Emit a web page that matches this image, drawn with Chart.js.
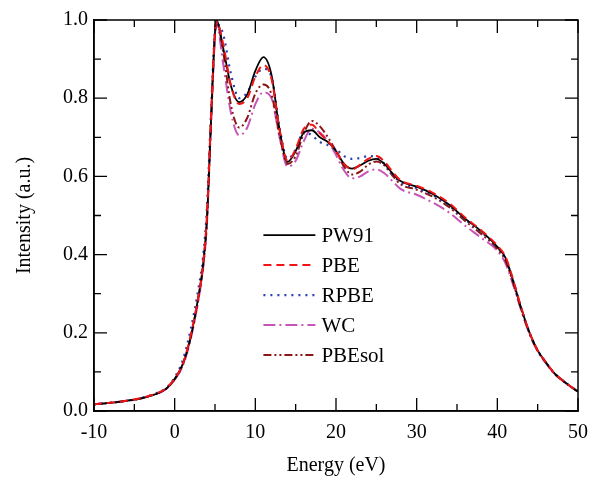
<!DOCTYPE html>
<html>
<head>
<meta charset="utf-8">
<script src="https://cdn.jsdelivr.net/npm/chart.js@4/dist/chart.umd.min.js"></script>
<style>
  html, body { margin: 0; padding: 0; background: #ffffff; }
  #wrap { width: 590px; height: 484px; }
</style>
</head>
<body>
<div id="wrap"><canvas id="c" width="590" height="484"></canvas></div>
<script>
// Photon energy grid (eV)
const energy = [-10, -8, -6, -4, -2, -1, 0,
  1, 2, 3, 3.5, 4, 4.5, 5, 5.2,
  6, 7, 8, 9, 10, 11, 12, 13, 14, 15, 16, 17, 18, 19, 20, 21, 22, 23, 24, 25,
  26, 27, 28,
  30, 32, 34, 36, 38, 40,
  41, 42, 43, 44, 45, 46, 47, 48, 49, 50];

// Normalised intensity for each exchange-correlation functional
const pw91 = [0.017, 0.021, 0.026, 0.033, 0.046, 0.058, 0.082,
  0.12, 0.19, 0.30, 0.37, 0.49, 0.74, 0.97, 1.0,
  0.93, 0.83, 0.79, 0.81, 0.87, 0.905, 0.86, 0.72, 0.637, 0.665, 0.712, 0.718, 0.70, 0.688, 0.665, 0.632, 0.62, 0.628, 0.64, 0.645,
  0.632, 0.608, 0.588,
  0.574, 0.555, 0.528, 0.492, 0.46, 0.42,
  0.392, 0.33, 0.26, 0.2, 0.155, 0.125, 0.098, 0.08, 0.064, 0.05];

const pbe = [0.017, 0.021, 0.026, 0.034, 0.047, 0.059, 0.083,
  0.12, 0.195, 0.30, 0.37, 0.50, 0.75, 0.97, 0.995,
  0.94, 0.83, 0.785, 0.80, 0.855, 0.885, 0.85, 0.72, 0.64, 0.67, 0.722, 0.732, 0.71, 0.69, 0.665, 0.632, 0.618, 0.63, 0.645, 0.652,
  0.638, 0.612, 0.59,
  0.576, 0.558, 0.532, 0.495, 0.462, 0.423,
  0.395, 0.333, 0.262, 0.2, 0.155, 0.125, 0.098, 0.08, 0.064, 0.05];

const rpbe = [0.017, 0.021, 0.026, 0.034, 0.048, 0.06, 0.086,
  0.13, 0.21, 0.32, 0.39, 0.52, 0.76, 0.975, 0.99,
  0.965, 0.86, 0.80, 0.815, 0.855, 0.875, 0.855, 0.725, 0.645, 0.668, 0.715, 0.705, 0.688, 0.68, 0.67, 0.652, 0.645, 0.647, 0.652, 0.65,
  0.632, 0.605, 0.585,
  0.57, 0.552, 0.525, 0.49, 0.458, 0.418,
  0.39, 0.33, 0.26, 0.2, 0.155, 0.125, 0.098, 0.08, 0.064, 0.05];

const wc = [0.017, 0.021, 0.026, 0.033, 0.046, 0.057, 0.08,
  0.115, 0.185, 0.29, 0.36, 0.48, 0.73, 0.96, 0.99,
  0.89, 0.76, 0.705, 0.725, 0.785, 0.815, 0.8, 0.7, 0.625, 0.64, 0.69, 0.722, 0.712, 0.69, 0.655, 0.615, 0.595, 0.6, 0.613, 0.618,
  0.608, 0.588, 0.568,
  0.553, 0.533, 0.508, 0.474, 0.443, 0.41,
  0.378, 0.32, 0.255, 0.196, 0.152, 0.123, 0.097, 0.079, 0.063, 0.05];

const pbesol = [0.017, 0.021, 0.026, 0.033, 0.046, 0.058, 0.081,
  0.118, 0.19, 0.295, 0.365, 0.485, 0.735, 0.965, 0.995,
  0.92, 0.78, 0.725, 0.75, 0.812, 0.835, 0.81, 0.705, 0.632, 0.652, 0.71, 0.742, 0.728, 0.7, 0.665, 0.625, 0.605, 0.612, 0.63, 0.638,
  0.628, 0.602, 0.58,
  0.566, 0.548, 0.522, 0.486, 0.453, 0.415,
  0.385, 0.325, 0.258, 0.198, 0.154, 0.124, 0.097, 0.079, 0.063, 0.05];

const seriesNames = ['PW91', 'PBE', 'RPBE', 'WC', 'PBEsol'];
const xTicks = [-10, 0, 10, 20, 30, 40, 50];
const yTicks = [0.0, 0.2, 0.4, 0.6, 0.8, 1.0];

const FONT = "'Liberation Serif', 'Times New Roman', serif";

const toPoints = vals => energy.map((e, i) => ({ x: e, y: vals[i] }));

const styles = [
  { color: '#000000', dash: [], width: 1.8, order: 2 },
  { color: '#f01414', dash: [8, 5], width: 2, order: 1 },
  { color: '#2b3fb0', dash: [2, 5], width: 2.2, order: 3 },
  { color: '#c655b8', dash: [12, 4, 2, 4], width: 2, order: 5 },
  { color: '#8a1616', dash: [8, 3, 2, 3, 2, 3], width: 2, order: 4 }
];

const seriesValues = [pw91, pbe, rpbe, wc, pbesol];

const datasets = seriesNames.map((name, i) => ({
  label: name,
  data: toPoints(seriesValues[i]),
  borderColor: styles[i].color,
  borderDash: styles[i].dash,
  borderWidth: styles[i].width,
  order: styles[i].order,
  pointRadius: 0,
  fill: false,
  cubicInterpolationMode: 'monotone'
}));

// Closed frame with inward major/minor ticks on all four sides, plus legend
const framePlugin = {
  id: 'frame',
  afterDraw(chart) {
    const { ctx, chartArea: a, scales: { x, y } } = chart;
    ctx.save();
    ctx.strokeStyle = '#000';
    ctx.lineWidth = 1.5;
    ctx.setLineDash([]);
    ctx.strokeRect(a.left, a.top, a.right - a.left, a.bottom - a.top);
    ctx.lineWidth = 1.3;
    const major = 13, minor = 7;
    for (let v = -10; v <= 50; v += 5) {
      const px = x.getPixelForValue(v);
      const len = (v % 10 === 0) ? major : minor;
      ctx.beginPath();
      ctx.moveTo(px, a.bottom); ctx.lineTo(px, a.bottom - len);
      ctx.moveTo(px, a.top); ctx.lineTo(px, a.top + len);
      ctx.stroke();
    }
    for (let k = 0; k <= 10; k++) {
      const py = y.getPixelForValue(k / 10);
      const len = (k % 2 === 0) ? major : minor;
      ctx.beginPath();
      ctx.moveTo(a.left, py); ctx.lineTo(a.left + len, py);
      ctx.moveTo(a.right, py); ctx.lineTo(a.right - len, py);
      ctx.stroke();
    }

    // legend
    const lx0 = a.left + (a.right - a.left) * 0.35;
    const lineLen = 52;
    const ly0 = a.top + (a.bottom - a.top) * 0.55;
    const rowH = 30;
    ctx.font = '21px ' + FONT;
    ctx.textBaseline = 'middle';
    ctx.fillStyle = '#000';
    chart.data.datasets.forEach((ds, i) => {
      const yy = ly0 + i * rowH;
      ctx.beginPath();
      ctx.strokeStyle = ds.borderColor;
      ctx.lineWidth = ds.borderWidth;
      ctx.setLineDash(ds.borderDash);
      ctx.moveTo(lx0, yy);
      ctx.lineTo(lx0 + lineLen, yy);
      ctx.stroke();
      ctx.setLineDash([]);
      ctx.fillText(ds.label, lx0 + lineLen + 6, yy + 1);
    });
    ctx.restore();
  }
};

new Chart(document.getElementById('c'), {
  type: 'line',
  data: { datasets },
  options: {
    responsive: false,
    animation: false,
    devicePixelRatio: 1,
    layout: { padding: { left: 0, right: 12, top: 20, bottom: 0 } },
    plugins: { legend: { display: false }, tooltip: { enabled: false } },
    scales: {
      x: {
        type: 'linear',
        min: -10, max: 50,
        afterBuildTicks: s => { s.ticks = xTicks.map(v => ({ value: v })); },
        afterFit: s => { s.height = 73; s.paddingLeft = 0; s.paddingRight = 0; },
        grid: { display: false, drawTicks: false },
        border: { display: true, color: '#000', width: 1.5 },
        ticks: {
          color: '#000',
          padding: 10,
          maxRotation: 0,
          font: { family: FONT, size: 20 },
          callback: v => String(v)
        },
        title: {
          display: true,
          text: 'Energy (eV)',
          color: '#000',
          font: { family: FONT, size: 20 },
          padding: { top: 0, bottom: 6 }
        }
      },
      y: {
        type: 'linear',
        min: 0, max: 1,
        afterBuildTicks: s => { s.ticks = yTicks.map(v => ({ value: v })); },
        afterFit: s => { s.width = 94; s.paddingTop = 0; s.paddingBottom = 0; },
        grid: { display: false, drawTicks: false },
        border: { display: true, color: '#000', width: 1.5 },
        ticks: {
          color: '#000',
          padding: 6,
          font: { family: FONT, size: 20 },
          callback: v => Number(v).toFixed(1)
        },
        title: {
          display: true,
          text: 'Intensity (a.u.)',
          color: '#000',
          font: { family: FONT, size: 20 },
          padding: { top: 13, bottom: 0 }
        }
      }
    }
  },
  plugins: [framePlugin]
});
</script>
</body>
</html>
